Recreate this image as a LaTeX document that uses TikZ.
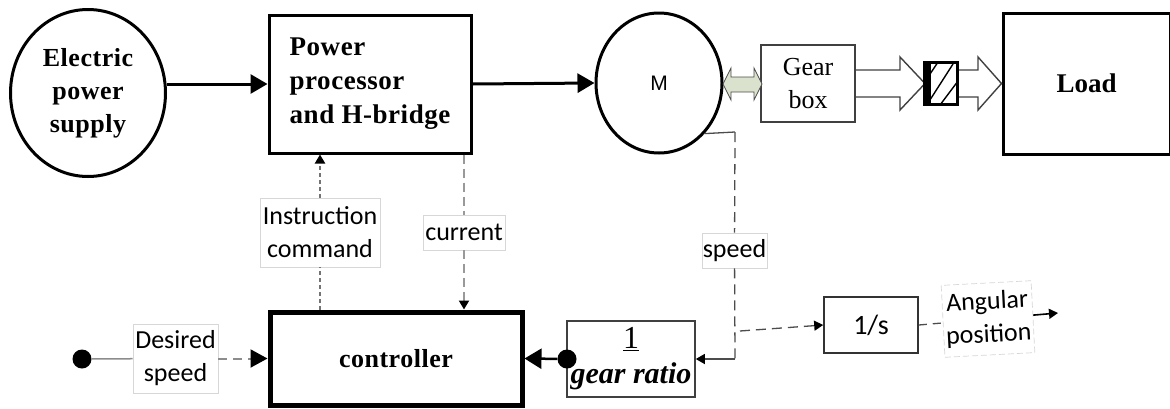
\documentclass[tikz,border=0pt]{standalone}
\usepackage{fontspec}
\setmainfont{Liberation Serif}
\newfontfamily\serifsp[LetterSpace=2]{Liberation Serif}
\newfontfamily\calib{Carlito}
\newfontfamily\arialf{Liberation Sans}
\usetikzlibrary{arrows.meta,shapes.geometric}
\definecolor{gfill}{RGB}{218,225,205}
\definecolor{lblline}{RGB}{215,215,215}
\begin{document}
\begin{tikzpicture}[x=1pt,y=-1pt,
  thickbox/.style={draw, line width=3pt, inner sep=0pt, align=center},
  thinbox/.style={draw=black!75, line width=1.6pt, inner sep=0pt, align=center},
  roundbox/.style={ellipse, draw, line width=3pt, inner sep=0pt, align=center},
  lbl/.style={fill=white, draw=lblline, line width=0.7pt, inner sep=0pt, align=center,
    font=\calib\fontsize{26}{33}\selectfont},
  bigarrow/.style={line width=3pt, -{Triangle[length=17pt,width=19pt]}},
  smalltip/.style={-{Triangle[length=9pt,width=10pt,color=black]}},
  dotnode/.style={circle, fill=black, minimum size=19pt, inner sep=0pt},
  harrow/.style={draw=black!75, line width=1.4pt, line join=miter},
  spd/.style={draw=black!70, line width=1.3pt},
  cur/.style={draw=black!40, line width=2pt, dash pattern=on 9pt off 5pt},
  instr/.style={draw=black!55, line width=2pt, dash pattern=on 4pt off 3pt}
]
\useasboundingbox (0,0) rectangle (1170,408);

% top row
\node[roundbox, minimum width=155pt, minimum height=167pt,
  font=\serifsp\bfseries\fontsize{26}{33}\selectfont] (eps) at (88,93) {Electric\\power\\supply};
\node[thickbox, minimum width=202pt, minimum height=138pt, align=left,
  font=\serifsp\bfseries\fontsize{27}{34}\selectfont] (pp) at (370,84) {Power\\processor\\and H-bridge};
\node[roundbox, minimum width=126pt, minimum height=140pt,
  font=\arialf\fontsize{21}{22}\selectfont] (M) at (659,83) {M};
\node[thinbox, minimum width=94pt, minimum height=77pt,
  font=\fontsize{26}{33}\selectfont] (gb) at (808,83.5) {Gear\\box};
\node[draw, line width=2pt, minimum width=32pt, minimum height=41pt, inner sep=0pt] (hb) at (941,83.5) {};
\node[thickbox, minimum width=167pt, minimum height=141pt,
  font=\bfseries\fontsize{27}{30}\selectfont] (load) at (1086.5,83.5) {Load};

% bottom row
\node[draw, line width=5pt, minimum width=252pt, minimum height=93pt, inner sep=0pt,
  font=\serifsp\bfseries\fontsize{26}{30}\selectfont] (ctrl) at (396,358.5) {controller};
\node[thinbox, minimum width=128pt, minimum height=76pt,
  font=\fontsize{30}{35}\selectfont] (gr) at (631,359)
  {{\fontsize{32}{35}\selectfont\underline{1}}\\{\bfseries\itshape gear ratio}};
\node[draw=black!80, line width=1.6pt, minimum width=94pt, minimum height=56pt, inner sep=0pt,
  font=\calib\fontsize{28}{30}\selectfont] (integ) at (871,325) {1/s};

% labels
\node[lbl, minimum width=120pt, minimum height=69pt] (ilbl) at (320,232.5) {Instruction\\command};
\node[lbl, minimum width=82pt, minimum height=35pt] (clbl) at (464,232.5) {current};
\node[lbl, minimum width=65pt, minimum height=35pt] (slbl) at (734.5,250.5) {speed};
\node[lbl, minimum width=85pt, minimum height=69pt] (dlbl) at (175.5,358.5) {Desired\\speed};
\node[lbl, dash pattern=on 6pt off 3pt, minimum width=90pt, minimum height=72pt, rotate=3] (alab) at (988,319) {Angular\\position};

% dots and coordinates
\node[dotnode] (dotL) at (82,359) {};
\node[dotnode] (dotR) at (567,359) {};
\coordinate (sc) at (735,132);
\coordinate (sb) at (735,359);
\coordinate (sbr) at (740,331);
\coordinate (aout) at (1058,313);

% main power arrows
\draw[bigarrow] (eps.east |- pp.west) -- (pp.west);
\draw[bigarrow] (pp.east) -- (M.west);

% motor to gearbox double arrow
\draw[fill=gfill, draw=black!70, line width=0.8pt]
  (723,84) -- (731,68) -- (731,77) -- (754,77) -- (754,68) -- (762,84)
  -- (754,100) -- (754,92) -- (731,92) -- (731,100) -- cycle;

% hollow arrows
\draw[harrow] (gb.east |- 0,70) -- (900,70) -- (900,57) -- (925,83.5) -- (900,110) -- (900,97) -- (gb.east |- 0,97);
\draw[harrow] (hb.east |- 0,70) -- (978,70) -- (978,57) -- (load.west) -- (978,110) -- (978,97) -- (hb.east |- 0,97);

% hatching
\begin{scope}
  \clip (925,63) rectangle (957,104);
  \fill[black] (925,63) rectangle (931,104);
  \draw[line width=1.4pt] (924,83) -- (938,62);
  \draw[line width=1.4pt] (928,103) -- (953,64);
  \draw[line width=1.4pt] (940,105) -- (958,81);
\end{scope}
\draw[line width=2pt] (hb.north west) rectangle (hb.south east);

% instruction command
\draw[instr] (ctrl.north -| ilbl) -- (ilbl);
\draw[instr, smalltip] (ilbl) -- (pp.south -| ilbl);

% current
\draw[cur] (pp.south -| clbl) -- (clbl);
\draw[cur, smalltip] (clbl) -- (ctrl.north -| clbl);

% speed feedback
\draw[spd] (M.-48) -- (sc);
\draw[spd, dash pattern=on 10pt off 6pt] (sc) -- (slbl);
\draw[spd, dash pattern=on 10pt off 6pt] (slbl) -- (sb);
\draw[spd, -{Triangle[length=9pt,width=10pt,color=black]}] (sb) -- (gr.east);
\draw[spd, dash pattern=on 10pt off 6pt, -{Triangle[length=9pt,width=10pt,color=black]}] (sbr) -- (integ.west);

% angular position
\draw[spd, dash pattern=on 8pt off 6pt] (integ.east) -- (alab);
\draw[line width=1.6pt, -{Triangle[length=9pt,width=10pt]}] (alab) -- (aout);

% gear ratio to controller
\draw[line width=2.5pt, -{Triangle[length=17pt,width=20pt]}] (dotR) -- (ctrl.east);

% desired speed
\draw[draw=black!45, line width=1.5pt] (dotL) -- (dlbl);
\draw[draw=black!45, line width=2pt, dash pattern=on 9pt off 6pt,
  -{Triangle[length=17pt,width=18pt,color=black]}] (dlbl) -- (ctrl.west);
\end{tikzpicture}
\end{document}
